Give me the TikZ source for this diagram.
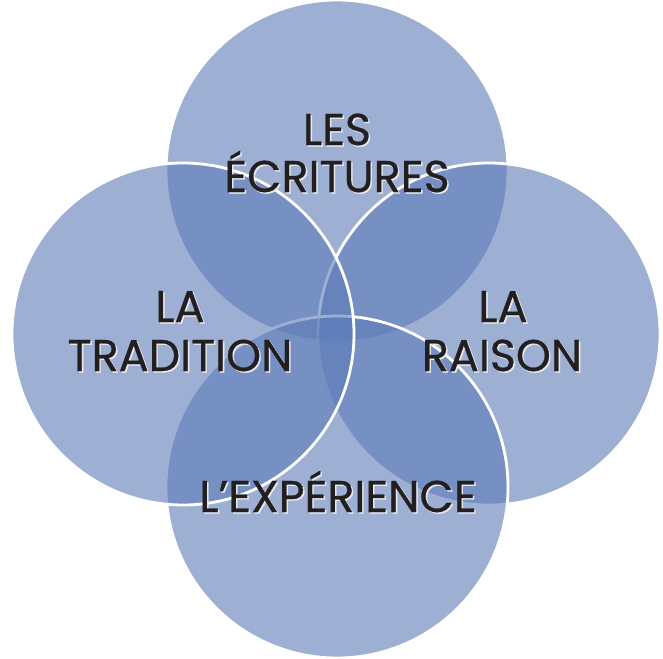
\documentclass[tikz,border=0pt]{standalone}
\usepackage{fontspec}
\setmainfont{Poppins}
\newfontfamily\lblfont{Poppins}[FakeBold=0.6]
\definecolor{circ}{RGB}{92,123,183}
\definecolor{txt}{HTML}{231F20}
\definecolor{shade}{HTML}{E6E8EE}
\begin{document}
\begin{tikzpicture}[x=1pt,y=-1pt,
  ring/.style={circle, minimum size=342pt, inner sep=0pt, fill=circ, fill opacity=0.6, draw=white, line width=2.8pt},
  lbl/.style={font=\lblfont\fontsize{44.5}{48}\selectfont, text=txt, anchor=base, inner sep=0pt},
  lblshadow/.style={lbl, text=shade}]
\useasboundingbox (0,0) rectangle (663,658);
\node[ring] (ctop) at (337,171) {};
\node[ring] (cright) at (489,334) {};
\node[ring] (cbottom) at (337,487) {};
\node[ring] (cleft) at (183,334) {};
% shadows
\node[lblshadow] (s1) at (338.5,146.5) {LES};
\node[lblshadow] (s2) at (338.5,193.5) {ÉCRITURES};
\node[lblshadow] (s3) at (181.5,323.5) {LA};
\node[lblshadow] (s4) at (181.5,372.5) {TRADITION};
\node[lblshadow] (s5) at (504.5,323.5) {LA};
\node[lblshadow] (s6) at (503.5,372.5) {RAISON};
\node[lblshadow] (s7) at (339.5,513.5) {L’EXPÉRIENCE};
% labels
\node[lbl] (t1) at (337,145) {LES};
\node[lbl] (t2) at (337,192) {ÉCRITURES};
\node[lbl] (t3) at (180,322) {LA};
\node[lbl] (t4) at (180,371) {TRADITION};
\node[lbl] (t5) at (503,322) {LA};
\node[lbl] (t6) at (502,371) {RAISON};
\node[lbl] (t7) at (338,512) {L’EXPÉRIENCE};
\end{tikzpicture}
\end{document}
